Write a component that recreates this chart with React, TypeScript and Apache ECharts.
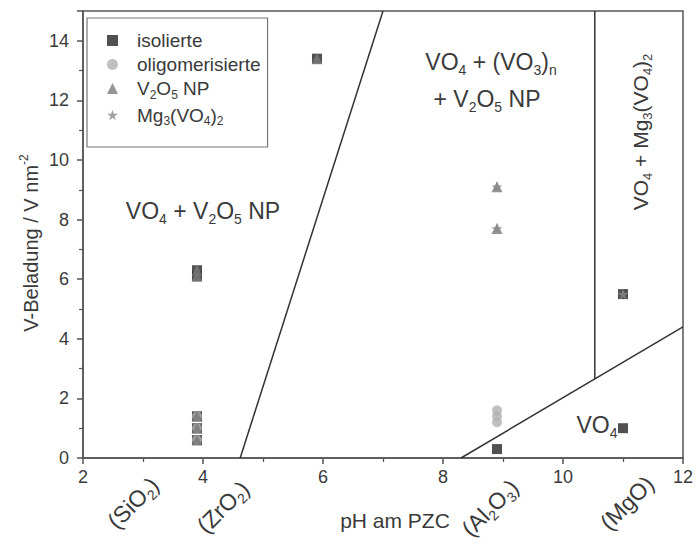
import React, { useEffect, useRef } from "react";
import * as echarts from "echarts";

const xTicks = [2, 4, 6, 8, 10, 12];
const yTicks = [0, 2, 4, 6, 8, 10, 12, 14];

const isolierte: number[][] = [
  [3.9, 0.6], [3.9, 1.0], [3.9, 1.4], [3.9, 6.1], [3.9, 6.3],
  [5.9, 13.4], [8.9, 0.3], [11.0, 5.5], [11.0, 1.0],
];
const oligomerisierte: number[][] = [
  [3.9, 0.6], [3.9, 1.0], [3.9, 1.4],
  [8.9, 1.2], [8.9, 1.4], [8.9, 1.6],
];
const v2o5NP: number[][] = [
  [3.9, 0.6], [3.9, 1.0], [3.9, 1.4], [3.9, 6.1], [3.9, 6.3],
  [5.9, 13.4], [8.9, 7.7], [8.9, 9.1],
];
const mg3vo4: number[][] = [
  [8.9, 7.7], [8.9, 9.1], [11.0, 5.5],
];

// phase boundary lines (pH, loading)
const boundaryA: number[][] = [[4.62, 0], [7.0, 15]];
const boundaryB: number[][] = [[8.3, 0], [12.0, 4.4]];
const boundaryC: number[][] = [[10.53, 2.65], [10.53, 15]];

const FONT = "'Liberation Sans', Arial, sans-serif";
const TXT = "#3a3a3a";

const STAR = "path://M50,0 L61,35 L98,35 L68,57 L79,91 L50,70 L21,91 L32,57 L2,35 L39,35 Z";

const mkRich = (size: number) => ({
  n: { fontSize: size, fontFamily: FONT, fill: TXT, lineHeight: size + 6, verticalAlign: "middle" },
  s: { fontSize: Math.round(size * 0.6), fontFamily: FONT, fill: TXT, lineHeight: size + 6, verticalAlign: "bottom" },
  u: { fontSize: Math.round(size * 0.6), fontFamily: FONT, fill: TXT, lineHeight: size + 6, verticalAlign: "top" },
});

const legendRich = {
  g: { width: 14, lineHeight: 24 },
  n: { fontSize: 19, fontFamily: FONT, color: TXT, lineHeight: 24, verticalAlign: "middle" },
  s: { fontSize: 12, fontFamily: FONT, color: TXT, lineHeight: 24, verticalAlign: "bottom" },
};

const legendNames: Record<string, string> = {
  "isolierte": "{g|}{n|isolierte}",
  "oligomerisierte": "{g|}{n|oligomerisierte}",
  "V2O5 NP": "{g|}{n|V}{s|2}{n|O}{s|5}{n| NP}",
  "Mg3(VO4)2": "{g|}{n|Mg}{s|3}{n|(VO}{s|4}{n|)}{s|2}",
};

function txt(x: number, y: number, text: string, size: number, rotation = 0) {
  return {
    type: "text",
    x,
    y,
    rotation,
    silent: true,
    style: {
      text,
      rich: mkRich(size),
      fontSize: size,
      fontFamily: FONT,
      fill: TXT,
      align: "center",
      verticalAlign: "middle",
    },
  };
}

export default function App() {
  const ref = useRef<HTMLDivElement>(null);
  useEffect(() => {
    if (!ref.current) return;
    const chart = echarts.init(ref.current, undefined, { renderer: "svg" });
    const lineSeries = (data: number[][]) => ({
      type: "line",
      data,
      symbol: "none",
      silent: true,
      lineStyle: { color: "#333", width: 1.5 },
      z: 1,
    });
    chart.setOption({
      animation: false,
      backgroundColor: "#fff",
      grid: {
        left: 83, right: 11, top: 11, bottom: 91,
        show: true, borderColor: "#555", borderWidth: 1.5,
      },
      xAxis: {
        type: "value",
        min: xTicks[0],
        max: xTicks[xTicks.length - 1],
        interval: 2,
        axisLine: { lineStyle: { color: "#555", width: 1.5 } },
        axisTick: { show: true, length: 6, lineStyle: { color: "#555", width: 1.5 } },
        minorTick: { show: true, splitNumber: 2, length: 4, lineStyle: { color: "#555", width: 1.2 } },
        splitLine: { show: false },
        axisLabel: { fontSize: 18, color: TXT, fontFamily: FONT, margin: 10 },
      },
      yAxis: {
        type: "value",
        min: yTicks[0],
        max: 15,
        interval: 2,
        axisLine: { show: true, lineStyle: { color: "#555", width: 1.5 } },
        axisTick: { show: true, length: 6, lineStyle: { color: "#555", width: 1.5 } },
        minorTick: { show: true, splitNumber: 2, length: 4, lineStyle: { color: "#555", width: 1.2 } },
        splitLine: { show: false },
        axisLabel: { fontSize: 18, color: TXT, fontFamily: FONT, margin: 14, showMaxLabel: false },
      },
      legend: {
        orient: "vertical",
        left: 87,
        top: 18,
        padding: [13, 7, 20, 20],
        itemGap: 5,
        itemWidth: 11,
        itemHeight: 11,
        borderColor: "#777",
        borderWidth: 1.2,
        backgroundColor: "#fff",
        data: ["isolierte", "oligomerisierte", "V2O5 NP", "Mg3(VO4)2"],
        formatter: (name: string) => legendNames[name] || name,
        textStyle: { fontSize: 19, fontFamily: FONT, color: TXT, rich: legendRich },
      },
      series: [
        lineSeries(boundaryA),
        lineSeries(boundaryB),
        lineSeries(boundaryC),
        {
          name: "isolierte", type: "scatter", data: isolierte,
          symbol: "rect", symbolSize: 10, itemStyle: { color: "#262626" }, z: 3,
        },
        {
          name: "oligomerisierte", type: "scatter", data: oligomerisierte,
          symbol: "circle", symbolSize: 10, itemStyle: { color: "#b0b0b0" }, z: 4,
        },
        {
          name: "V2O5 NP", type: "scatter", data: v2o5NP,
          symbol: "triangle", symbolSize: 11, itemStyle: { color: "#7a7a7a" }, z: 5,
        },
        {
          name: "Mg3(VO4)2", type: "scatter", data: mg3vo4,
          symbol: STAR, symbolSize: 11, itemStyle: { color: "#8a8a8a" }, z: 6,
        },
      ],
      graphic: [
        txt(203, 211, "{n|VO}{s|4}{n| + V}{s|2}{n|O}{s|5}{n| NP}", 23),
        txt(491, 62, "{n|VO}{s|4}{n| + (VO}{s|3}{n|)}{s|n}", 23),
        txt(487, 99, "{n|+ V}{s|2}{n|O}{s|5}{n| NP}", 23),
        txt(597, 425, "{n|VO}{s|4}", 23),
        txt(640, 132, "{n|VO}{s|4}{n| + Mg}{s|3}{n|(VO}{s|4}{n|)}{s|2}", 21, Math.PI / 2),
        txt(31, 243, "{n|V-Beladung / V nm}{u|-2}", 20, Math.PI / 2),
        txt(395, 520, "{n|pH am PZC}", 21),
        txt(133, 503, "{n|(SiO}{s|2}{n|)}", 23, Math.PI / 4),
        txt(223, 507, "{n|(ZrO}{s|2}{n|)}", 23, Math.PI / 4),
        txt(490, 508, "{n|(Al}{s|2}{n|O}{s|3}{n|)}", 23, Math.PI / 4),
        txt(627, 503, "{n|(MgO)}", 23, Math.PI / 4),
      ],
    });
    return () => chart.dispose();
  }, []);
  return (
    <div
      ref={ref}
      style={{ position: "absolute", left: 0, top: 0, width: 696, height: 549 }}
    />
  );
}
